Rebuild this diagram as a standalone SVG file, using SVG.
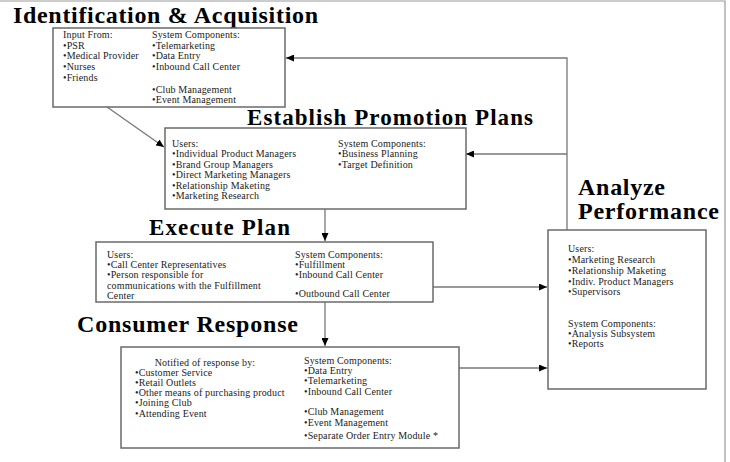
<svg xmlns="http://www.w3.org/2000/svg" width="730" height="462" viewBox="0 0 730 462">
<defs>
<marker id="arr" markerUnits="userSpaceOnUse" markerWidth="8" markerHeight="7" refX="8" refY="3.5" orient="auto">
<path d="M0,0 L8,3.5 L0,7 Z" fill="#000"/>
</marker>
<style>
.box{fill:#fff;stroke:#6a6a6a;stroke-width:1.5}
.t{font-family:"Liberation Serif","Times New Roman",serif;font-size:10px;fill:#222;letter-spacing:0.15px}
.h{font-family:"Liberation Serif","Times New Roman",serif;font-weight:bold;fill:#000}
.c{fill:none;stroke:#777;stroke-width:1.3}
.frame{stroke:#999;stroke-width:1.2;fill:none}
</style>
</defs>
<rect width="730" height="462" fill="#fff"/>
<path class="frame" d="M0,1 H725 V462"/>

<g id="connectors">
<path class="c" d="M107,107 L164,147" marker-end="url(#arr)"/>
<path class="c" d="M567,230 V58 H286" marker-end="url(#arr)"/>
<path class="c" d="M567,154 H466" marker-end="url(#arr)"/>
<path class="c" d="M325,209 V241" marker-end="url(#arr)"/>
<path class="c" d="M325,302 V346" marker-end="url(#arr)"/>
<path class="c" d="M433,287 H547" marker-end="url(#arr)"/>
<path class="c" d="M459,368 H547" marker-end="url(#arr)"/>
</g>

<g id="identification">
<text class="h" x="13" y="23" font-size="24" textLength="305" lengthAdjust="spacing">Identification &amp; Acquisition</text>
<rect class="box" x="53" y="28" width="232" height="79"/>
<text class="t" x="63" y="38">Input From:</text>
<text class="t" x="63" y="48.5">•PSR</text>
<text class="t" x="63" y="59">•Medical Provider</text>
<text class="t" x="63" y="70">•Nurses</text>
<text class="t" x="63" y="80.5">•Friends</text>
<text class="t" x="152" y="38">System Components:</text>
<text class="t" x="152" y="48.5">•Telemarketing</text>
<text class="t" x="152" y="59">•Data Entry</text>
<text class="t" x="152" y="70">•Inbound Call Center</text>
<text class="t" x="152" y="92.5">•Club Management</text>
<text class="t" x="152" y="102.5">•Event Management</text>
</g>

<g id="promotion">
<text class="h" x="247" y="125" font-size="23" textLength="286" lengthAdjust="spacing">Establish Promotion Plans</text>
<rect class="box" x="165" y="128" width="301" height="81"/>
<text class="t" x="172" y="146.5">Users:</text>
<text class="t" x="172" y="157">•Individual Product Managers</text>
<text class="t" x="172" y="167.5">•Brand Group Managers</text>
<text class="t" x="172" y="178">•Direct Marketing Managers</text>
<text class="t" x="172" y="188.5">•Relationship Maketing</text>
<text class="t" x="172" y="199">•Marketing Research</text>
<text class="t" x="338" y="146.5">System Components:</text>
<text class="t" x="338" y="157">•Business Planning</text>
<text class="t" x="338" y="167.5">•Target Definition</text>
</g>

<g id="execute">
<text class="h" x="149" y="235" font-size="23" textLength="141" lengthAdjust="spacing">Execute Plan</text>
<rect class="box" x="96" y="242" width="337" height="60"/>
<text class="t" x="107" y="257.5">Users:</text>
<text class="t" x="107" y="267.5">•Call Center Representatives</text>
<text class="t" x="107" y="277.5">•Person responsible for</text>
<text class="t" x="107" y="288.5">communications with the Fulfillment</text>
<text class="t" x="107" y="299">Center</text>
<text class="t" x="295" y="258">System Components:</text>
<text class="t" x="295" y="268">•Fulfillment</text>
<text class="t" x="295" y="278">•Inbound Call Center</text>
<text class="t" x="295" y="297">•Outbound Call Center</text>
</g>

<g id="consumer">
<text class="h" x="77" y="332" font-size="24" textLength="221" lengthAdjust="spacing">Consumer Response</text>
<rect class="box" x="121" y="347" width="338" height="101"/>
<text class="t" x="205" y="365.5" text-anchor="middle">Notified of response by:</text>
<text class="t" x="135" y="375.5">•Customer Service</text>
<text class="t" x="135" y="385.5">•Retail Outlets</text>
<text class="t" x="135" y="395.5">•Other means of purchasing product</text>
<text class="t" x="135" y="406">•Joining Club</text>
<text class="t" x="135" y="416.5">•Attending Event</text>
<text class="t" x="304" y="363.5">System Components:</text>
<text class="t" x="304" y="373.5">•Data Entry</text>
<text class="t" x="304" y="384">•Telemarketing</text>
<text class="t" x="304" y="394.5">•Inbound Call Center</text>
<text class="t" x="304" y="414.5">•Club Management</text>
<text class="t" x="304" y="425.5">•Event Management</text>
<text class="t" x="304" y="438.5">•Separate Order Entry Module *</text>
</g>

<g id="analyze">
<text class="h" x="578" y="195" font-size="24" textLength="87" lengthAdjust="spacing">Analyze</text>
<text class="h" x="578" y="219" font-size="24" textLength="141" lengthAdjust="spacing">Performance</text>
<rect class="box" x="548" y="230" width="158" height="159"/>
<text class="t" x="568" y="251.5">Users:</text>
<text class="t" x="568" y="262.5">•Marketing Research</text>
<text class="t" x="568" y="273.5">•Relationship Maketing</text>
<text class="t" x="568" y="284.5">•Indiv. Product Managers</text>
<text class="t" x="568" y="294.5">•Supervisors</text>
<text class="t" x="568" y="326.5">System Components:</text>
<text class="t" x="568" y="336.5">•Analysis Subsystem</text>
<text class="t" x="568" y="346.5">•Reports</text>
</g>
</svg>
